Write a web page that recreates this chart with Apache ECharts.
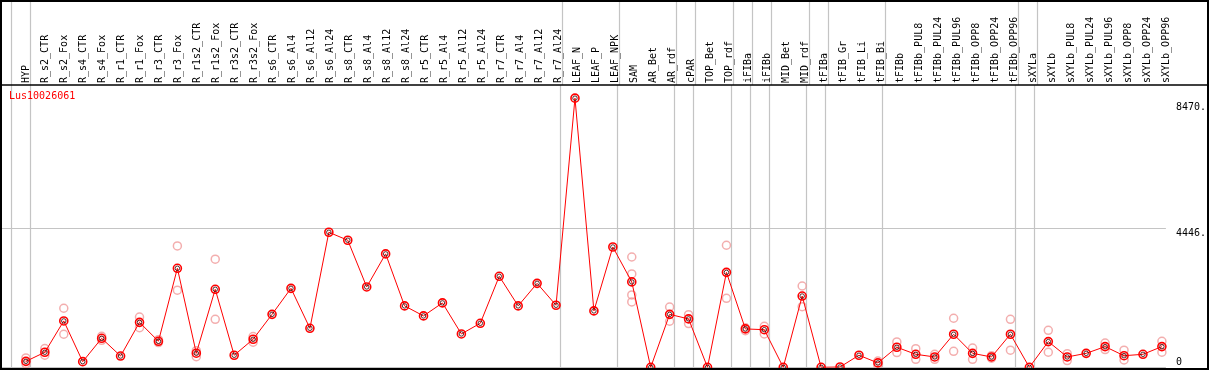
<!DOCTYPE html>
<html>
<head>
<meta charset="utf-8">
<script src="https://cdn.jsdelivr.net/npm/echarts@6/dist/echarts.min.js"></script>
<style>
html,body{margin:0;padding:0;background:#fff;}
#c{width:1209px;height:370px;}
</style>
</head>
<body>
<div id="c"></div>
<script>
const geneName = 'Lus10026061';
const categories = ['HYP','R_s2_CTR','R_s2_Fox','R_s4_CTR','R_s4_Fox','R_r1_CTR','R_r1_Fox','R_r3_CTR','R_r3_Fox','R_r1s2_CTR','R_r1s2_Fox','R_r3s2_CTR','R_r3s2_Fox','R_s6_CTR','R_s6_Al4','R_s6_Al12','R_s6_Al24','R_s8_CTR','R_s8_Al4','R_s8_Al12','R_s8_Al24','R_r5_CTR','R_r5_Al4','R_r5_Al12','R_r5_Al24','R_r7_CTR','R_r7_Al4','R_r7_Al12','R_r7_Al24','LEAF_N','LEAF_P','LEAF_NPK','SAM','AR_Bet','AR_rdf','cPAR','TOP_Bet','TOP_rdf','iFIBa','iFIBb','MID_Bet','MID_rdf','tFIBa','tFIB_Gr','tFIB_Li','tFIB_Bi','tFIBb','tFIBb_PUL8','tFIBb_PUL24','tFIBb_PUL96','tFIBb_OPP8','tFIBb_OPP24','tFIBb_OPP96','sXYLa','sXYLb','sXYLb_PUL8','sXYLb_PUL24','sXYLb_PUL96','sXYLb_OPP8','sXYLb_OPP24','sXYLb_OPP96'];
const means = [190,480,1480,180,925,360,1435,830,3160,450,2490,385,895,1690,2520,1245,4310,4055,2565,3620,1960,1640,2055,1065,1405,2905,1960,2680,1980,8590,1800,3840,2725,0,1690,1545,0,3030,1225,1200,0,2275,0,10,385,140,640,415,330,1055,445,330,1055,0,820,330,445,660,370,415,660];
const replicates = [[300,110],[600,385],[1885,1055],[],[990,860],[],[1605,1265],[880,790],[3875,2460],[530,340],[3450,1530],[],[980,800],[],[],[],[],[],[],[],[],[],[],[],[],[],[],[],[],[],[],[],[3520,2980,2310,2085],[],[1925,1470],[1680,1395],[],[3895,2200],[1260,1170],[1310,1065],[],[2595,1935],[],[],[],[200,55],[810,470],[595,255],[415,255],[1565,510],[615,255],[370,290],[1530,545],[],[1180,480],[435,215],[],[775,565],[545,235],[],[830,480]];
const groupEnds = [-1,0,28,31,34,35,37,38,39,41,42,45,52,53,60];
const yLabelValues = [0,4446,8470];
const yGridValues = [0,4446];

const meanData = means.map((v,i)=>[i,v]);
const repData = [];
replicates.forEach((arr,i)=>arr.forEach(v=>repData.push([i,v])));
const dividers = groupEnds.map(g=>g+0.24);
const catIdx = categories.map((c,i)=>i);

const X_MIN = -1.263, X_MAX = 60.211;
const mono = 'DejaVu Sans Mono';

const chart = echarts.init(document.getElementById('c'), null, {renderer:'canvas'});
chart.setOption({
  animation:false,
  backgroundColor:'#fff',
  title:{text:geneName,left:9,top:91,padding:0,textStyle:{color:'#ff0000',fontFamily:mono,fontSize:10,fontWeight:'normal'}},
  grid:[
    {left:2,right:39,top:0,height:85},
    {left:2,right:39,top:85,bottom:2.7}
  ],
  xAxis:[
    {type:'value',gridIndex:0,min:X_MIN,max:X_MAX,position:'bottom',
     axisLine:{show:false},
     axisTick:{show:false,customValues:dividers},
     splitLine:{show:true,lineStyle:{color:'#c4c4c4',width:1.2}},
     axisLabel:{show:true,inside:true,rotate:90,margin:2,customValues:catIdx,
       formatter:(v)=>categories[Math.round(v)],
       fontFamily:mono,fontSize:10,color:'#000'}},
    {type:'value',gridIndex:1,min:X_MIN,max:X_MAX,
     axisLine:{show:false},
     axisTick:{show:false,customValues:dividers},
     splitLine:{show:true,lineStyle:{color:'#c4c4c4',width:1.2}},
     axisLabel:{show:false}}
  ],
  yAxis:[
    {type:'value',gridIndex:0,min:0,max:1,show:false},
    {type:'value',gridIndex:1,min:0,max:9010,position:'right',
     axisLine:{show:false},
     axisTick:{show:false,customValues:yGridValues},
     splitLine:{show:true,lineStyle:{color:'#c4c4c4',width:1.2}},
     axisLabel:{show:true,margin:10,customValues:yLabelValues,
       formatter:(v)=> v===0 ? '{b|0}' : '{t|'+v+'.}',
       rich:{
         t:{fontFamily:mono,fontSize:10,color:'#000',padding:[10,0,0,0]},
         b:{fontFamily:mono,fontSize:10,color:'#000',padding:[0,0,9,0]}
       }}}
  ],
  series:[
    {type:'scatter',xAxisIndex:1,yAxisIndex:1,data:repData,symbol:'circle',symbolSize:8,z:2,
     itemStyle:{color:'rgba(0,0,0,0)',borderColor:'#f09a9a',borderWidth:1.5}},
    {type:'line',xAxisIndex:1,yAxisIndex:1,data:meanData,symbol:'circle',symbolSize:8,showAllSymbol:true,z:3,
     lineStyle:{color:'#ff0000',width:1},
     itemStyle:{color:'rgba(0,0,0,0)',borderColor:'#ff0000',borderWidth:1.6}},
    {type:'scatter',xAxisIndex:1,yAxisIndex:1,data:meanData,symbol:'circle',symbolSize:4.5,z:4,
     itemStyle:{color:'rgba(0,0,0,0)',borderColor:'#300000',borderWidth:1}}
  ],
  graphic:[
    {type:'line',shape:{x1:0,y1:85,x2:1209,y2:85},style:{stroke:'#000',lineWidth:1.5},z:100},
    {type:'rect',shape:{x:1,y:1,width:1207,height:368},style:{fill:null,stroke:'#000',lineWidth:2},z:100}
  ]
});
</script>
</body>
</html>
